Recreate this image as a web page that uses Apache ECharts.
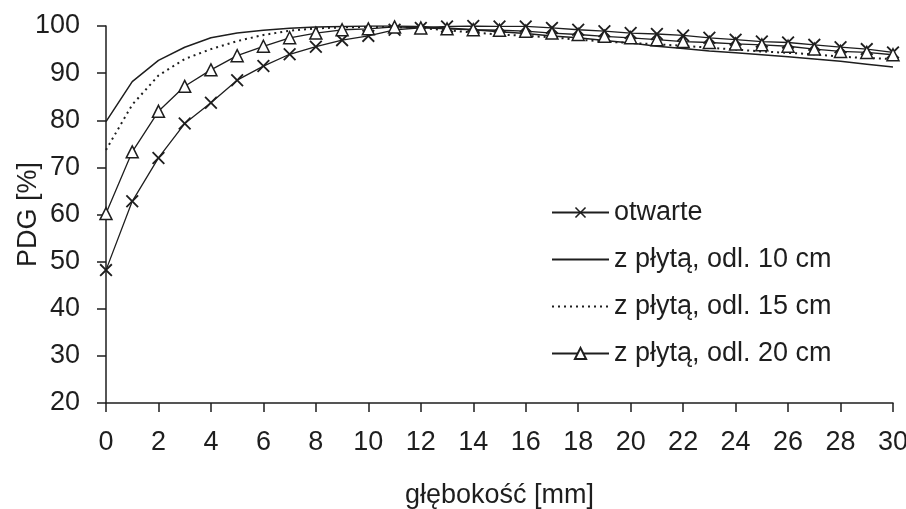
<!DOCTYPE html>
<html>
<head>
<meta charset="utf-8">
<script src="https://cdn.jsdelivr.net/npm/echarts@6/dist/echarts.min.js"></script>
<style>html,body{margin:0;padding:0;background:#fff}#c{width:906px;height:509px}</style>
</head>
<body>
<div id="c"></div>
<script>
const depth = [0,1,2,3,4,5,6,7,8,9,10,11,12,13,14,15,16,17,18,19,20,21,22,23,24,25,26,27,28,29,30];
const otwarte = [48.2,62.8,72.0,79.3,83.7,88.5,91.5,94.0,95.6,97.0,97.9,99.2,99.6,99.9,100.0,99.9,99.9,99.6,99.2,98.9,98.5,98.3,98.0,97.5,97.1,96.7,96.5,96.0,95.5,95.1,94.4];
const plyta10 = [79.7,88.2,92.7,95.5,97.5,98.5,99.1,99.5,99.8,99.9,100.0,100.0,99.9,99.6,99.2,98.8,98.4,97.9,97.5,96.9,96.4,95.7,95.2,94.7,94.3,93.9,93.5,93.0,92.5,91.9,91.3];
const plyta15 = [73.7,83.3,89.5,93.0,95.1,96.8,98.1,99.0,99.5,99.7,99.8,99.8,99.6,99.1,98.6,98.2,97.9,97.6,97.1,96.7,96.4,96.1,95.8,95.4,95.0,94.6,94.3,94.0,93.5,93.2,93.0];
const plyta20 = [60.2,73.3,81.9,87.2,90.7,93.7,95.7,97.5,98.5,99.2,99.4,99.8,99.6,99.4,99.2,99.1,98.9,98.5,98.2,97.8,97.5,97.1,96.7,96.5,96.2,96.0,95.7,95.1,94.6,94.4,93.9];
const names = ['otwarte','z płytą, odl. 10 cm','z płytą, odl. 15 cm','z płytą, odl. 20 cm'];
const xTitle = 'głębokość [mm]';
const yTitle = 'PDG [%]';

const ink = '#1e1e1e';
const font = 'Liberation Sans, Arial, sans-serif';
const pts = a => a.map((v,i)=>[depth[i], v]);
const crossPath = 'path://M0,1 L1,0 L5,4 L9,0 L10,1 L6,5 L10,9 L9,10 L5,6 L1,10 L0,9 L4,5 Z';

const chart = echarts.init(document.getElementById('c'));
chart.setOption({
  animation: false,
  backgroundColor: '#fff',
  textStyle: {fontFamily: font, color: ink},
  grid: {left: 106, right: 13, top: 26, bottom: 106, containLabel: false, outerBoundsMode: 'none'},
  legend: {
    orient: 'vertical', left: 546, top: 194, itemGap: 20,
    itemWidth: 57, itemHeight: 14,
    textStyle: {fontSize: 27, fontFamily: font, color: ink},
    data: [
      {name: names[0]},
      {name: names[1], itemStyle: {opacity: 0}},
      {name: names[2], itemStyle: {opacity: 0}},
      {name: names[3]}
    ]
  },
  xAxis: {
    type: 'value', min: 0, max: 30, interval: 2,
    name: xTitle, nameLocation: 'middle', nameGap: 79, nameMoveOverlap: false,
    nameTextStyle: {fontSize: 27, fontFamily: font, color: ink},
    axisLine: {show: true, lineStyle: {color: ink, width: 1.5}},
    axisTick: {show: true, length: 9, lineStyle: {color: ink, width: 1.5}},
    axisLabel: {fontSize: 27, fontFamily: font, color: ink, margin: 26},
    splitLine: {show: false}
  },
  yAxis: {
    type: 'value', min: 20, max: 100, interval: 10,
    name: yTitle, nameLocation: 'middle', nameGap: 64, nameMoveOverlap: false,
    nameTextStyle: {fontSize: 27, fontFamily: font, color: ink},
    axisLine: {show: true, lineStyle: {color: ink, width: 1.5}},
    axisTick: {show: true, length: 9, lineStyle: {color: ink, width: 1.5}},
    axisLabel: {fontSize: 27, fontFamily: font, color: ink, margin: 26},
    splitLine: {show: false}
  },
  series: [
    {name: names[0], type: 'line', data: pts(otwarte), symbol: crossPath, symbolSize: 13,
     showAllSymbol: true, lineStyle: {color: ink, width: 1.3}, itemStyle: {color: ink}},
    {name: names[1], type: 'line', data: pts(plyta10), symbol: 'none',
     lineStyle: {color: ink, width: 1.5}, itemStyle: {color: ink}},
    {name: names[2], type: 'line', data: pts(plyta15), symbol: 'none',
     lineStyle: {color: ink, width: 2, type: [2, 4]}, itemStyle: {color: ink}},
    {name: names[3], type: 'line', data: pts(plyta20), symbol: 'triangle', symbolSize: 12,
     showAllSymbol: true, lineStyle: {color: ink, width: 1.3},
     itemStyle: {color: '#fff', borderColor: ink, borderWidth: 1.5}}
  ]
});
</script>
</body>
</html>
